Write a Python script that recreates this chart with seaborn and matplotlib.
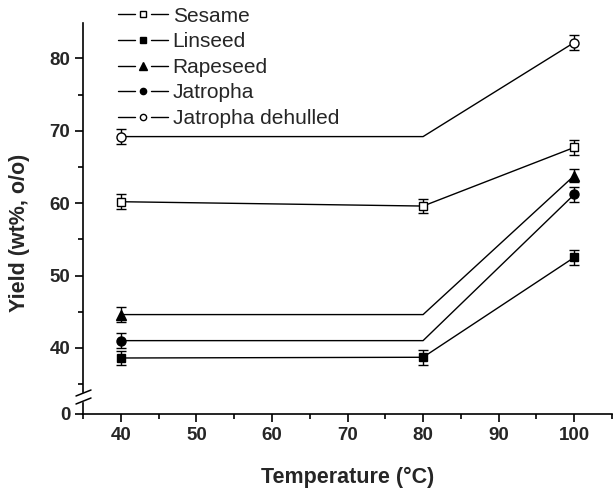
import matplotlib
matplotlib.use("Agg")
import matplotlib.pyplot as plt
from matplotlib.lines import Line2D
from matplotlib.legend_handler import HandlerBase
from matplotlib.ticker import MultipleLocator
import seaborn as sns
import pandas as pd
import numpy as np

sns.set_style("ticks")
plt.rcParams['font.family'] = ['Liberation Sans', 'DejaVu Sans']

temperature = [40, 80, 100]
series_names = ["Sesame", "Linseed", "Rapeseed", "Jatropha", "Jatropha dehulled"]
sesame = [60.2, 59.6, 67.7]
linseed = [38.6, 38.7, 52.5]
rapeseed = [44.6, 44.6, 63.8]
jatropha = [41.0, 41.0, 61.2]
jatropha_dehulled = [69.2, 69.2, 82.2]
sesame_err = [1.0, 1.0, 1.0]
linseed_err = [1.0, 1.0, 1.0]
rapeseed_err = [1.0, 0.0, 0.9]
jatropha_err = [1.0, 0.0, 1.0]
jatropha_dehulled_err = [1.0, 0.0, 1.0]
# whether a marker is drawn at each temperature
sesame_shown = [True, True, True]
linseed_shown = [True, True, True]
rapeseed_shown = [True, False, True]
jatropha_shown = [True, False, True]
jatropha_dehulled_shown = [True, False, True]

values = [sesame, linseed, rapeseed, jatropha, jatropha_dehulled]
errors = [sesame_err, linseed_err, rapeseed_err, jatropha_err, jatropha_dehulled_err]
shown = [sesame_shown, linseed_shown, rapeseed_shown, jatropha_shown, jatropha_dehulled_shown]
markers = ["s", "s", "^", "o", "o"]
filled = [False, True, True, True, False]
msizes = {"s": 5.5, "o": 6.5, "^": 7.5}

rows = []
for name, v, e, s in zip(series_names, values, errors, shown):
    for t, yv, ev, sv in zip(temperature, v, e, s):
        rows.append(dict(series=name, temperature=t, yield_=yv, err=ev, shown=sv))
df = pd.DataFrame(rows)

fig = plt.figure(figsize=(6.14, 4.88), dpi=100)
H = 488.0
W = 614.0
left = 83 / W
width = (612 - 83) / W
ax = fig.add_axes([left, (H - 392) / H, width, (392 - 23) / H])
ax0 = fig.add_axes([left, (H - 414) / H, width, (414 - 403) / H])

sns.lineplot(data=df, x="temperature", y="yield_", units="series", estimator=None,
             color="black", linewidth=1.0, ax=ax, legend=False, sort=False)

for name, mk, fl in zip(series_names, markers, filled):
    sub = df[(df.series == name) & (df.shown)]
    ax.errorbar(sub.temperature, sub.yield_, yerr=sub.err, fmt=mk, color="black",
                mfc="black" if fl else "white", mec="black", ms=msizes[mk],
                mew=1.0, ecolor="black", elinewidth=1.0, capsize=3.5, capthick=1.0, zorder=3)

ax.set_xlim(35, 105)
ax.set_ylim(33.9, 84.9)
ax.yaxis.set_major_locator(MultipleLocator(10))
ax.yaxis.set_minor_locator(MultipleLocator(5))
ax.set_yticks([40, 50, 60, 70, 80])
ax.set_xticks([])
ax.spines['top'].set_visible(False)
ax.spines['right'].set_visible(False)
ax.spines['bottom'].set_visible(False)
ax.set_xlabel("")
ax.set_ylabel("")

ax0.set_xlim(35, 105)
ax0.set_ylim(0, 11 / 7.23)
ax0.set_yticks([0])
ax0.xaxis.set_major_locator(MultipleLocator(10))
ax0.xaxis.set_minor_locator(MultipleLocator(5))
ax0.set_xticks([40, 50, 60, 70, 80, 90, 100])
ax0.spines['top'].set_visible(False)
ax0.spines['right'].set_visible(False)
ax0.set_xlabel("Temperature (°C)", fontsize=15.5, fontweight="bold", labelpad=17)
ax0.set_ylabel("")

for a in (ax, ax0):
    a.patch.set_alpha(0)
    for sp in a.spines.values():
        sp.set_linewidth(1.2)
        sp.set_color("black")
    a.tick_params(which="major", direction="out", length=6, width=1.2, color="black",
                  labelsize=13.5, pad=3)
    a.tick_params(which="minor", direction="out", length=3.5, width=1.2, color="black")
    for lab in a.get_xticklabels() + a.get_yticklabels():
        lab.set_fontweight("bold")

fig.text(20 / W, (H - 233) / H, "Yield (wt%, o/o)", rotation=90, ha="center", va="center",
         fontsize=15.5, fontweight="bold")

# break marks
for yb in (393, 401):
    fig.add_artist(Line2D([76 / W, 91 / W], [(H - yb - 3) / H, (H - yb + 3) / H],
                          color="black", lw=1.1, transform=fig.transFigure))


class GapLineHandler(HandlerBase):
    def create_artists(self, legend, orig_handle, xdescent, ydescent, width, height,
                       fontsize, trans):
        y = height / 2 - ydescent
        x0 = -xdescent
        mid = x0 + width / 2
        gap = width * 0.16
        l1 = Line2D([x0, mid - gap], [y, y], color="black", lw=1.0)
        l2 = Line2D([mid + gap, x0 + width], [y, y], color="black", lw=1.0)
        m = Line2D([mid], [y], linestyle="none", marker=orig_handle.get_marker(),
                   mfc=orig_handle.get_markerfacecolor(), mec="black",
                   ms=orig_handle.get_markersize(), mew=1.0)
        for art in (l1, l2, m):
            art.set_transform(trans)
        return [l1, l2, m]


handles = []
for name, mk, fl in zip(series_names, markers, filled):
    handles.append(Line2D([], [], color="black", lw=1.0, marker=mk,
                          mfc="black" if fl else "white", mec="black",
                          ms=4.5 if mk != "^" else 5.5, mew=1.0))
fig.legend(handles, series_names, loc="upper left", bbox_to_anchor=(118 / W, 1 - 6.5 / H),
           frameon=False, fontsize=15, handlelength=2.4, handletextpad=0.22,
           labelspacing=0.32, borderaxespad=0, borderpad=0,
           handler_map={Line2D: GapLineHandler()})

fig.savefig("out.png", dpi=100)
